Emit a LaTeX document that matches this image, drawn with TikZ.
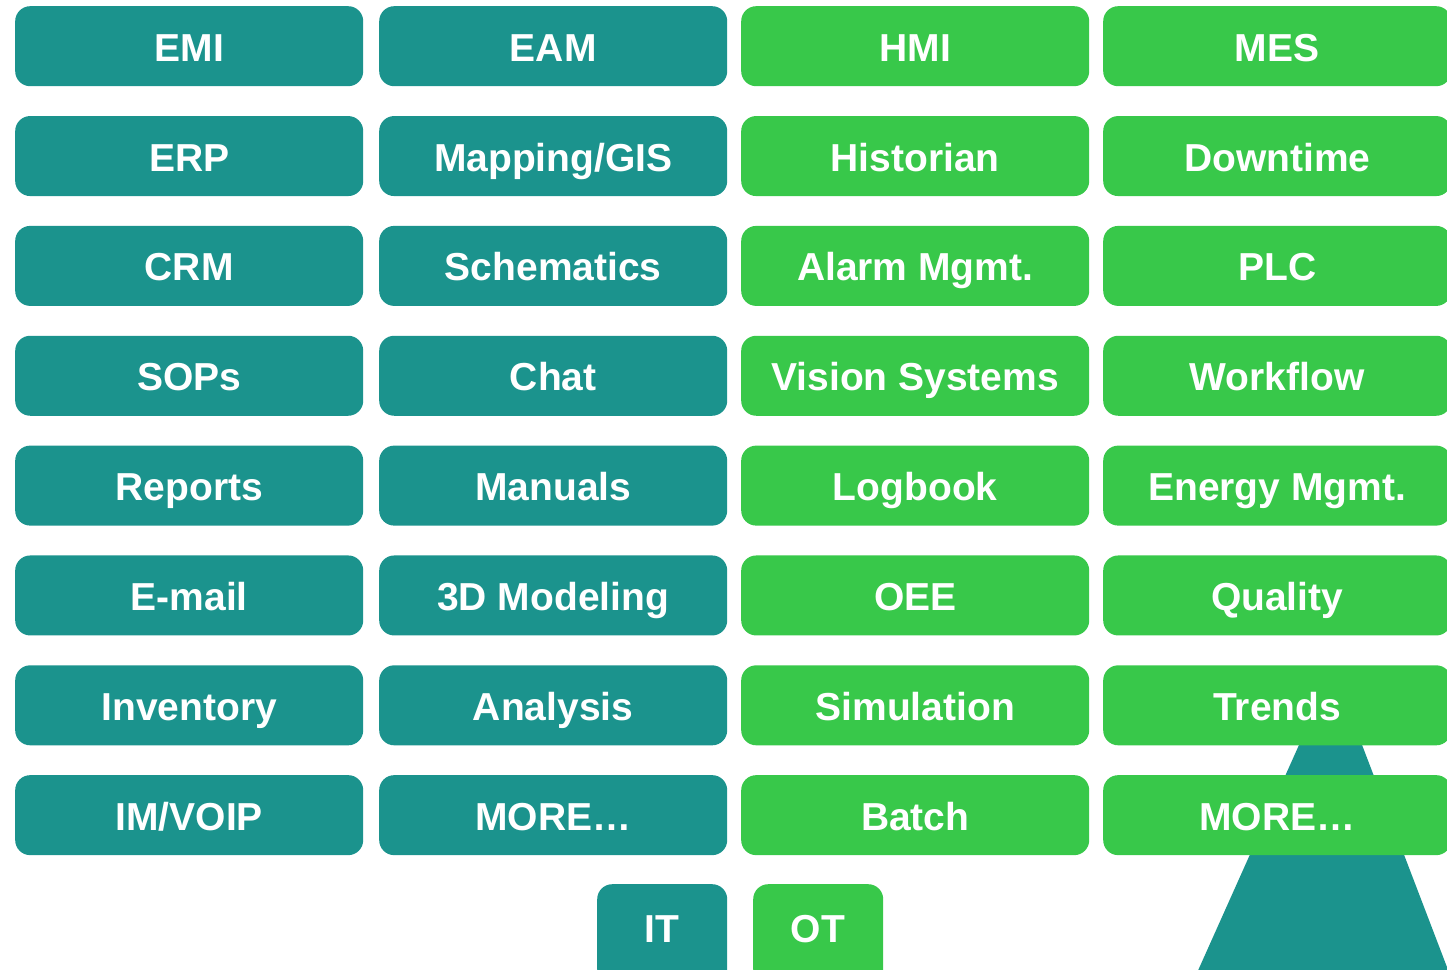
\documentclass[tikz,border=0pt]{standalone}
\usepackage{fontspec}
\setmainfont{Liberation Sans}
\definecolor{itc}{RGB}{27,147,141}
\definecolor{otc}{RGB}{56,200,74}
\begin{document}
\begin{tikzpicture}[x=1pt,y=-1pt,
  lbl/.style={text=white,font=\fontsize{39}{41}\selectfont\bfseries},
  cell/.style={lbl,rounded corners=15pt,minimum width=348pt,minimum height=80pt,inner sep=0pt,
    text height=36pt,text depth=6pt,anchor=north west},
  itbox/.style={cell,fill=itc},
  otbox/.style={cell,fill=otc},
  smallbox/.style={rounded corners=15pt,minimum width=130pt,minimum height=100pt,inner sep=0pt,anchor=north west},
]
\useasboundingbox (0,0) rectangle (1447,969);
\begin{scope}
\clip (0,0) rectangle (1447,969);
\fill[itc] (1333,669) -- (1196,975) -- (1450,975) -- cycle;
\foreach \t [count=\i from 0] in {EMI,ERP,CRM,SOPs,Reports,E-mail,Inventory,IM/VOIP}
  \node[itbox] (a\i) at (15,{6+109.85*\i}) {\t};
\foreach \t [count=\i from 0] in {EAM,Mapping/GIS,Schematics,Chat,Manuals,3D Modeling,Analysis,MORE…}
  \node[itbox] (b\i) at (379,{6+109.85*\i}) {\t};
\foreach \t [count=\i from 0] in {HMI,Historian,Alarm Mgmt.,Vision Systems,Logbook,OEE,Simulation,Batch}
  \node[otbox] (c\i) at (741,{6+109.85*\i}) {\t};
\foreach \t [count=\i from 0] in {MES,Downtime,PLC,Workflow,Energy Mgmt.,Quality,Trends,MORE…}
  \node[otbox] (d\i) at (1103,{6+109.85*\i}) {\t};
\node[smallbox,fill=itc] (it) at (597,884) {};
\node[lbl,anchor=base] (itl) at (662,942) {IT};
\node[smallbox,fill=otc] (ot) at (753,884) {};
\node[lbl,anchor=base] (otl) at (818,942) {OT};
\end{scope}
\end{tikzpicture}
\end{document}
